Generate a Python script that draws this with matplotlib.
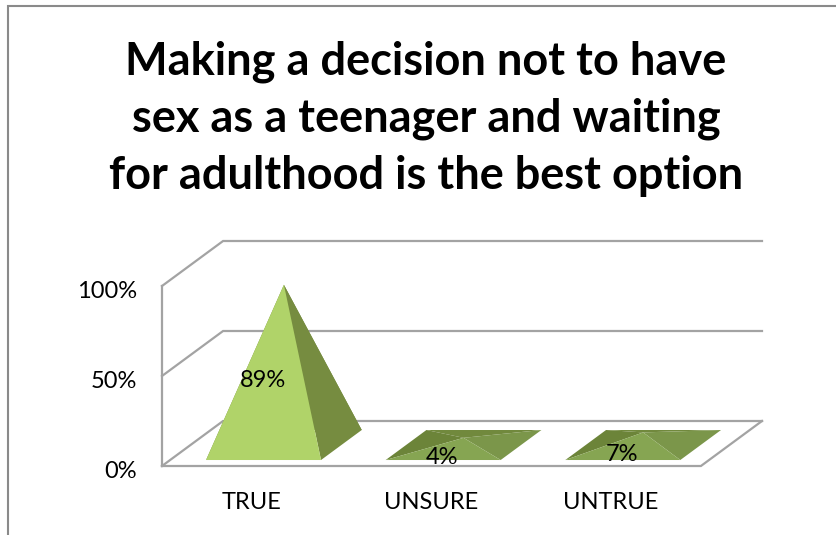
import matplotlib.pyplot as plt
from matplotlib.lines import Line2D
from matplotlib.transforms import ScaledTranslation

categories = ["TRUE", "UNSURE", "UNTRUE"]
values = [89, 4, 7]
labels = ["89%", "4%", "7%"]
yticks = [0, 50, 100]
yticklabels = ["0%", "50%", "100%"]
title = "Making a decision not to have\nsex as a teenager and waiting\nfor adulthood is the best option"

W, H = 836, 535
DEPTH_X = 0.34  # sideways shift of the back wall, in category units
DEPTH_Y = 25  # upward shift of the back wall, in percent
GRID = "#a3a3a3"

plt.rcParams["font.family"] = ["Lato", "DejaVu Sans"]


def project(x, y, depth):
    return x + depth * DEPTH_X, y + depth * DEPTH_Y


def draw_pyramid(ax, cat, value, big):
    front, back = 0.133, 0.8
    half = 0.32
    shift = 0.02
    fl = project(cat + shift - half, 0, front)
    fr = project(cat + shift + half, 0, front)
    bl = project(cat + shift - half, 0, back)
    br = project(cat + shift + half, 0, back)
    apex = project(cat + shift, value, (front + back) / 2)

    if big:
        cols = {"back": "#768c40", "left": "#768c40", "right": "#768c40", "front": "#b0d369"}
    else:
        cols = {"back": "#71893d", "left": "#6c8439", "right": "#7b964a", "front": "#86a552"}

    faces = [("back", [bl, br, apex]), ("left", [fl, bl, apex]),
             ("right", [fr, br, apex]), ("front", [fl, fr, apex])]
    for name, pts in faces:
        ax.fill([p[0] for p in pts], [p[1] for p in pts], color=cols[name],
                linewidth=0, zorder=3, clip_on=False)


fig = plt.figure(figsize=(W / 100, H / 100), dpi=100)
ax = fig.add_axes([162 / W, (H - 466) / H, 600 / W, 225 / H])
ax.set_xlim(-0.5, 2.5 + DEPTH_X)
ax.set_ylim(0, 100 + DEPTH_Y)
for s in ax.spines.values():
    s.set_visible(False)
ax.patch.set_alpha(0)

# walls and floor
for t in yticks:
    p0 = project(-0.5, t, 0)
    p1 = project(-0.5, t, 1)
    p2 = project(2.5, t, 1)
    ax.plot([p0[0], p1[0], p2[0]], [p0[1], p1[1], p2[1]], color=GRID, lw=1.6,
            clip_on=False, zorder=1, solid_joinstyle="miter")
ax.plot([-0.5, -0.5], [0, yticks[-1]], color=GRID, lw=1.6, clip_on=False, zorder=1)
end = project(2.5, 0, 1)
ax.plot([-0.5, 2.5, end[0]], [0, 0, end[1]], color=GRID, lw=1.6, clip_on=False, zorder=1,
        solid_joinstyle="miter")

for i, v in enumerate(values):
    draw_pyramid(ax, i, v, v > 50)
    ax.text(i + 0.06, v / 2 + 3, labels[i], ha="center", va="center",
            fontsize=17, color="black", zorder=5)

ax.set_xticks(range(len(categories)))
ax.set_xticklabels(categories, fontsize=17)
ax.set_yticks(yticks)
ax.set_yticklabels(yticklabels, fontsize=17)
ax.tick_params(axis="x", length=0, pad=18.5)
ax.tick_params(axis="y", length=0, pad=18)
for lab in ax.get_yticklabels():
    lab.set_transform(lab.get_transform() + ScaledTranslation(0, -3 / 100, fig.dpi_scale_trans))

fig.text(426 / W, 1 - 119 / H, title, ha="center", va="center", fontsize=32.5,
         fontweight="bold", color="black", linespacing=1.43)

# outer frame of the slide, cropped at right and bottom
fig.add_artist(Line2D([7.5 / W, 7.5 / W, 1], [0, 1 - 6 / H, 1 - 6 / H], color="#8a8a8a",
                      lw=1.5, transform=fig.transFigure, solid_joinstyle="miter"))

fig.savefig("out.png", dpi=100)
